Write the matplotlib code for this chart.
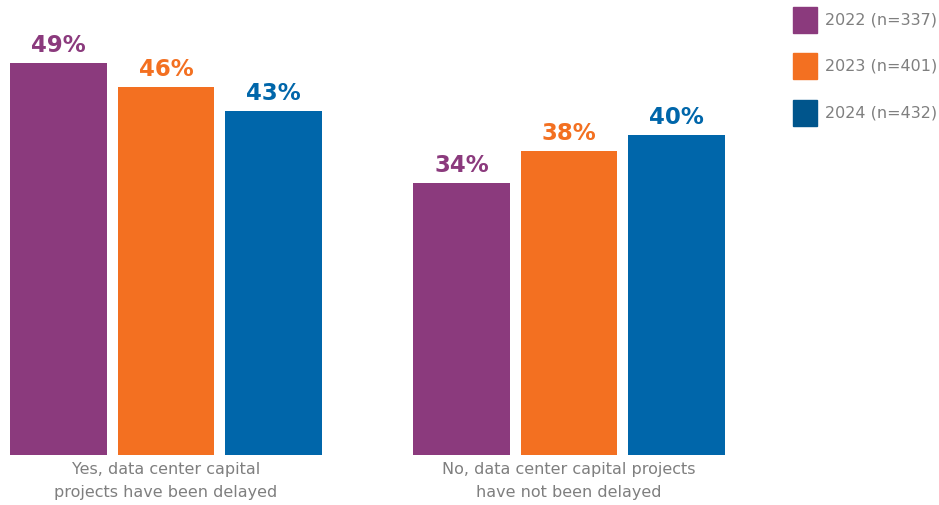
import matplotlib.pyplot as plt
from matplotlib.patches import Rectangle

# data
categories = ["Yes, data center capital\nprojects have been delayed",
              "No, data center capital projects\nhave not been delayed"]
years = ["2022 (n=337)", "2023 (n=401)", "2024 (n=432)"]
values_2022 = [49, 34]
values_2023 = [46, 38]
values_2024 = [43, 40]
series = [values_2022, values_2023, values_2024]

bar_colors = ["#8B3A7D", "#F37021", "#0066AA"]
legend_colors = ["#8B3A7D", "#F37021", "#00558C"]
grey = "#7F7F7F"

fig = plt.figure(figsize=(9.39, 5.05), dpi=100)
ax = fig.add_axes([0, 50 / 505, 1, 455 / 505])

group_pos = [0, 3.75]
offsets = [-1, 0, 1]
width = 0.9

for s, vals in enumerate(series):
    xs = [g + offsets[s] for g in group_pos]
    bars = ax.bar(xs, vals, width=width, color=bar_colors[s])
    for b, v in zip(bars, vals):
        ax.text(b.get_x() + b.get_width() / 2, v + 0.7, f"{v}%",
                ha="center", va="bottom", fontsize=16.5, fontweight="bold",
                color=bar_colors[s])

ax.set_xlim(-1.544, 7.191)
ax.set_ylim(0, 56.875)
ax.axis("off")

for g, cat in zip(group_pos, categories):
    ax.text(g, -0.9, cat, ha="center", va="top", fontsize=11.5,
            color=grey, linespacing=1.65, clip_on=False)

# legend drawn by hand on the right
row_y = [20, 66, 113]
for label, c, y in zip(years, legend_colors, row_y):
    fig.add_artist(Rectangle((793 / 939, 1 - (y + 13) / 505), 24 / 939, 26 / 505,
                             transform=fig.transFigure, color=c))
    fig.text(825 / 939, 1 - y / 505, label, ha="left", va="center",
             fontsize=11.5, color=grey)

fig.savefig("out.png", dpi=100)
